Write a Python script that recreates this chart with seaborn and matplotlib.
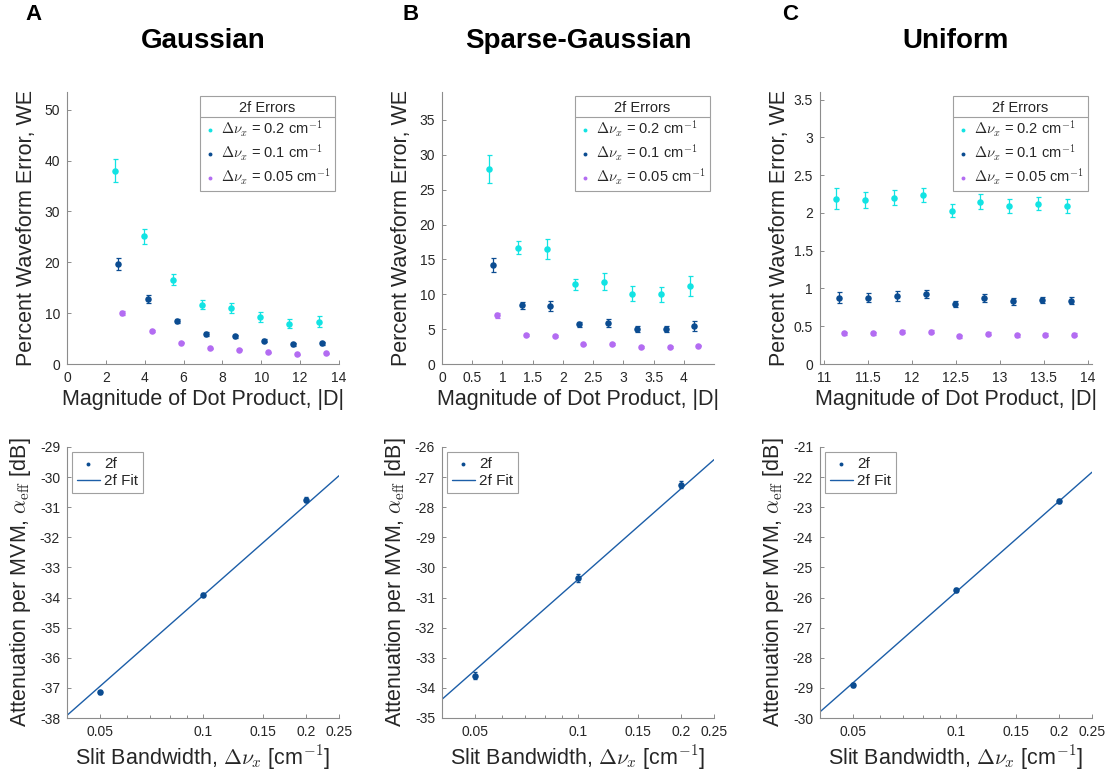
"""
plot.py
Waveform error vs |D| (top row) and attenuation per MVM vs slit bandwidth (bottom row)
for Gaussian, Sparse-Gaussian and Uniform matrices.
"""

import numpy as np
import pandas as pd
import matplotlib
matplotlib.use("Agg")
import matplotlib.pyplot as plt
import matplotlib.ticker as mticker
from matplotlib.lines import Line2D
import seaborn as sns


# ── Top row: percent waveform error ─────────────────────────────────────────
gauss_x_02 = [2.45, 3.95, 5.45, 6.95, 8.45, 9.95, 11.45, 12.95]
gauss_x_01 = [2.65, 4.15, 5.65, 7.15, 8.65, 10.15, 11.65, 13.15]
gauss_x_005 = [2.85, 4.35, 5.85, 7.35, 8.85, 10.35, 11.85, 13.35]
gauss_we_02 = [38.0, 25.1, 16.6, 11.7, 11.0, 9.3, 7.9, 8.3]
gauss_err_02 = [2.3, 1.4, 1.1, 0.95, 0.9, 0.95, 0.9, 1.1]
gauss_we_01 = [19.6, 12.8, 8.4, 5.9, 5.5, 4.6, 3.9, 4.1]
gauss_err_01 = [1.2, 0.8, 0.4, 0.3, 0.3, 0.3, 0.3, 0.3]
gauss_we_005 = [10.0, 6.5, 4.2, 3.05, 2.8, 2.3, 1.95, 2.1]
gauss_err_005 = [0.4, 0.2, 0.15, 0.1, 0.1, 0.1, 0.1, 0.1]

sparse_x_02 = [0.78, 1.25, 1.73, 2.20, 2.68, 3.15, 3.63, 4.10]
sparse_x_01 = [0.84, 1.32, 1.79, 2.27, 2.75, 3.22, 3.70, 4.17]
sparse_x_005 = [0.91, 1.39, 1.87, 2.34, 2.81, 3.29, 3.77, 4.23]
sparse_we_02 = [27.9, 16.7, 16.5, 11.4, 11.8, 10.1, 10.0, 11.2]
sparse_err_02 = [2.0, 0.95, 1.45, 0.8, 1.25, 1.05, 1.05, 1.45]
sparse_we_01 = [14.2, 8.4, 8.3, 5.7, 5.9, 5.0, 5.0, 5.5]
sparse_err_01 = [1.0, 0.5, 0.75, 0.35, 0.6, 0.45, 0.45, 0.7]
sparse_we_005 = [7.0, 4.2, 4.05, 2.8, 2.85, 2.45, 2.45, 2.65]
sparse_err_005 = [0.35, 0.15, 0.15, 0.1, 0.1, 0.1, 0.1, 0.1]

unif_x_02 = [11.13, 11.46, 11.79, 12.12, 12.45, 12.77, 13.10, 13.43, 13.76]
unif_x_01 = [11.17, 11.50, 11.83, 12.16, 12.49, 12.82, 13.15, 13.48, 13.81]
unif_x_005 = [11.22, 11.55, 11.88, 12.21, 12.53, 12.86, 13.19, 13.52, 13.85]
unif_we_02 = [2.19, 2.17, 2.20, 2.24, 2.03, 2.15, 2.09, 2.12, 2.09]
unif_err_02 = [0.135, 0.105, 0.1, 0.095, 0.085, 0.1, 0.092, 0.087, 0.097]
unif_we_01 = [0.88, 0.88, 0.90, 0.93, 0.80, 0.87, 0.83, 0.85, 0.84]
unif_err_01 = [0.075, 0.066, 0.06, 0.05, 0.04, 0.05, 0.05, 0.04, 0.05]
unif_we_005 = [0.41, 0.41, 0.43, 0.43, 0.37, 0.40, 0.38, 0.385, 0.385]
unif_err_005 = [0.02, 0.02, 0.02, 0.02, 0.02, 0.02, 0.02, 0.02, 0.02]

# ── Bottom row: attenuation per MVM ─────────────────────────────────────────
slit_bw = [0.05, 0.1, 0.2]
atten_gauss = [-37.15, -33.9, -30.75]
atten_gauss_err = [0.05, 0.05, 0.08]
atten_sparse = [-33.6, -30.35, -27.25]
atten_sparse_err = [0.12, 0.12, 0.12]
atten_unif = [-28.9, -25.75, -22.8]
atten_unif_err = [0.06, 0.06, 0.06]

BW_LABELS = ["0.2", "0.1", "0.05"]
COLORS = ["#12e3e3", "#0b4c91", "#b36cf2"]
FIT_COLOR = "#1c5ea8"
AXIS_GRAY = "#8c8c8c"
TEXT = "#262626"
LABEL_FS = 15.5

sns.set_style("white")
plt.rcParams["font.family"] = ["Liberation Sans", "DejaVu Sans"]
plt.rcParams["mathtext.fontset"] = "cm"
plt.rcParams["xtick.direction"] = "in"
plt.rcParams["ytick.direction"] = "in"


def _style_axes(ax):
    sns.despine(ax=ax)
    for side in ("left", "bottom"):
        ax.spines[side].set_color(AXIS_GRAY)
        ax.spines[side].set_linewidth(0.8)
    ax.tick_params(which="both", colors=AXIS_GRAY, labelcolor=TEXT,
                   labelsize=10, length=3, width=0.7, pad=5,
                   bottom=True, left=True)
    ax.tick_params(which="minor", length=2)


def _add_title_rule(fig, leg):
    # MATLAB-style line under the legend title
    fig.canvas.draw()
    inv = fig.transFigure.inverted()
    lb = leg.get_window_extent()
    tb = leg.get_title().get_window_extent()
    (x0, _), (x1, _) = inv.transform([(lb.x0, 0), (lb.x1, 0)])
    _, y = inv.transform((0, tb.y0 - 2))
    fig.add_artist(Line2D([x0, x1], [y, y], color="#a0a0a0", lw=0.8,
                          transform=fig.transFigure))


def _plot_we_panel(ax, xs, ys, errs, xlim, xticks, ylim, yticks):
    for x, y, e, c, bw in zip(xs, ys, errs, COLORS, BW_LABELS):
        ax.errorbar(x, y, yerr=e, fmt="none", ecolor=c, elinewidth=0.9,
                    capsize=1.8, capthick=0.9, zorder=2)
        df = pd.DataFrame({"D": x, "WE": y})
        sns.scatterplot(data=df, x="D", y="WE", color=c, s=22, linewidth=0,
                        ax=ax, zorder=3,
                        label=rf"$\Delta\nu_x$ = {bw} cm$^{{-1}}$")
    ax.set_xlim(*xlim)
    ax.set_ylim(*ylim)
    ax.set_xticks(xticks)
    ax.set_yticks(yticks)
    ax.xaxis.set_major_formatter(mticker.FormatStrFormatter("%g"))
    ax.yaxis.set_major_formatter(mticker.FormatStrFormatter("%g"))
    ax.set_xlabel("Magnitude of Dot Product, |D|", fontsize=LABEL_FS, color=TEXT, labelpad=3)
    ax.set_ylabel("Percent Waveform Error, WE", fontsize=LABEL_FS, color=TEXT)
    ax.yaxis.set_label_coords(-0.11, 0.5)
    _style_axes(ax)
    leg = ax.legend(title="2f Errors", loc="upper right", fontsize=10.5,
                    title_fontsize=10.5, frameon=True, fancybox=False,
                    edgecolor="#a0a0a0", framealpha=1, markerscale=0.6,
                    handletextpad=0.3, handlelength=0.8, borderpad=0.3,
                    labelspacing=0.25, bbox_to_anchor=(1.0, 1.0),
                    borderaxespad=0.3)
    leg.get_frame().set_linewidth(0.8)
    return leg


def _plot_atten_panel(ax, y, yerr, ylim):
    bw = np.array(slit_bw)
    yy = np.array(y)
    # fit with fixed 10 dB/decade slope
    offset = np.mean(yy - 10 * np.log10(bw))
    x_fit = np.geomspace(0.04, 0.25, 60)
    fit_df = pd.DataFrame({"bw": x_fit, "att": 10 * np.log10(x_fit) + offset})
    sns.lineplot(data=fit_df, x="bw", y="att", color=FIT_COLOR, lw=1.0,
                 ax=ax, label="2f Fit", zorder=2)
    ax.errorbar(bw, yy, yerr=yerr, fmt="none", ecolor=COLORS[1],
                elinewidth=0.9, capsize=1.5, zorder=3)
    sns.scatterplot(x=bw, y=yy, color=COLORS[1], s=22, linewidth=0, ax=ax,
                    label="2f", zorder=4)
    ax.set_xscale("log")
    ax.set_xlim(0.04, 0.25)
    ax.set_ylim(*ylim)
    ax.xaxis.set_major_locator(mticker.FixedLocator([0.05, 0.1, 0.15, 0.2, 0.25]))
    ax.xaxis.set_major_formatter(mticker.FormatStrFormatter("%g"))
    ax.xaxis.set_minor_locator(mticker.LogLocator(base=10, subs=np.arange(2, 10)))
    ax.xaxis.set_minor_formatter(mticker.NullFormatter())
    ax.yaxis.set_major_locator(mticker.MultipleLocator(1))
    ax.yaxis.set_major_formatter(mticker.FormatStrFormatter("%g"))
    ax.set_xlabel(r"Slit Bandwidth, $\Delta\nu_x$ [cm$^{-1}$]", fontsize=LABEL_FS,
                  color=TEXT, labelpad=3)
    ax.set_ylabel(r"Attenuation per MVM, $\alpha_{\rm eff}$ [dB]", fontsize=LABEL_FS,
                  color=TEXT)
    ax.yaxis.set_label_coords(-0.125, 0.5)
    _style_axes(ax)
    handles, labels = ax.get_legend_handles_labels()
    order = [labels.index("2f"), labels.index("2f Fit")]
    leg = ax.legend([handles[i] for i in order], [labels[i] for i in order],
                    loc="upper left", fontsize=11, frameon=True, fancybox=False,
                    edgecolor="#a0a0a0", framealpha=1, markerscale=0.6,
                    handlelength=1.5, handletextpad=0.3, borderpad=0.3,
                    labelspacing=0.2, bbox_to_anchor=(0.0, 1.0),
                    borderaxespad=0.35)
    leg.get_frame().set_linewidth(0.8)


fig = plt.figure(figsize=(11.11, 7.77), dpi=100)
W, H = 1111, 777
lefts = [67, 442, 820]
top_axes = [fig.add_axes([l / W, (H - 364) / H, 272 / W, 272 / H]) for l in lefts]
bot_axes = [fig.add_axes([l / W, (H - 718) / H, 272 / W, 271 / H]) for l in lefts]

legs = []
legs.append(_plot_we_panel(
    top_axes[0],
    [gauss_x_02, gauss_x_01, gauss_x_005],
    [gauss_we_02, gauss_we_01, gauss_we_005],
    [gauss_err_02, gauss_err_01, gauss_err_005],
    (0, 14), np.arange(0, 15, 2), (0, 53.5), np.arange(0, 51, 10)))
legs.append(_plot_we_panel(
    top_axes[1],
    [sparse_x_02, sparse_x_01, sparse_x_005],
    [sparse_we_02, sparse_we_01, sparse_we_005],
    [sparse_err_02, sparse_err_01, sparse_err_005],
    (0, 4.5), np.arange(0, 4.1, 0.5), (0, 39), np.arange(0, 36, 5)))
legs.append(_plot_we_panel(
    top_axes[2],
    [unif_x_02, unif_x_01, unif_x_005],
    [unif_we_02, unif_we_01, unif_we_005],
    [unif_err_02, unif_err_01, unif_err_005],
    (10.95, 14.05), np.arange(11, 14.01, 0.5), (0, 3.6), np.arange(0, 3.51, 0.5)))

_plot_atten_panel(bot_axes[0], atten_gauss, atten_gauss_err, (-38, -29))
_plot_atten_panel(bot_axes[1], atten_sparse, atten_sparse_err, (-35, -26))
_plot_atten_panel(bot_axes[2], atten_unif, atten_unif_err, (-30, -21))

titles = ["Gaussian", "Sparse-Gaussian", "Uniform"]
letters = ["A", "B", "C"]
letter_x = [34, 411, 790]
for l, t, lx, lt in zip(lefts, titles, letter_x, letters):
    fig.text((l + 136) / W, 1 - 41 / H, t, fontsize=20, fontweight="bold",
             ha="center", va="center", color="black")
    fig.text(lx / W, 1 - 15 / H, lt, fontsize=16, fontweight="bold",
             ha="center", va="center", color="black")

for leg in legs:
    _add_title_rule(fig, leg)

fig.savefig("out.png", dpi=100)
plt.close(fig)
